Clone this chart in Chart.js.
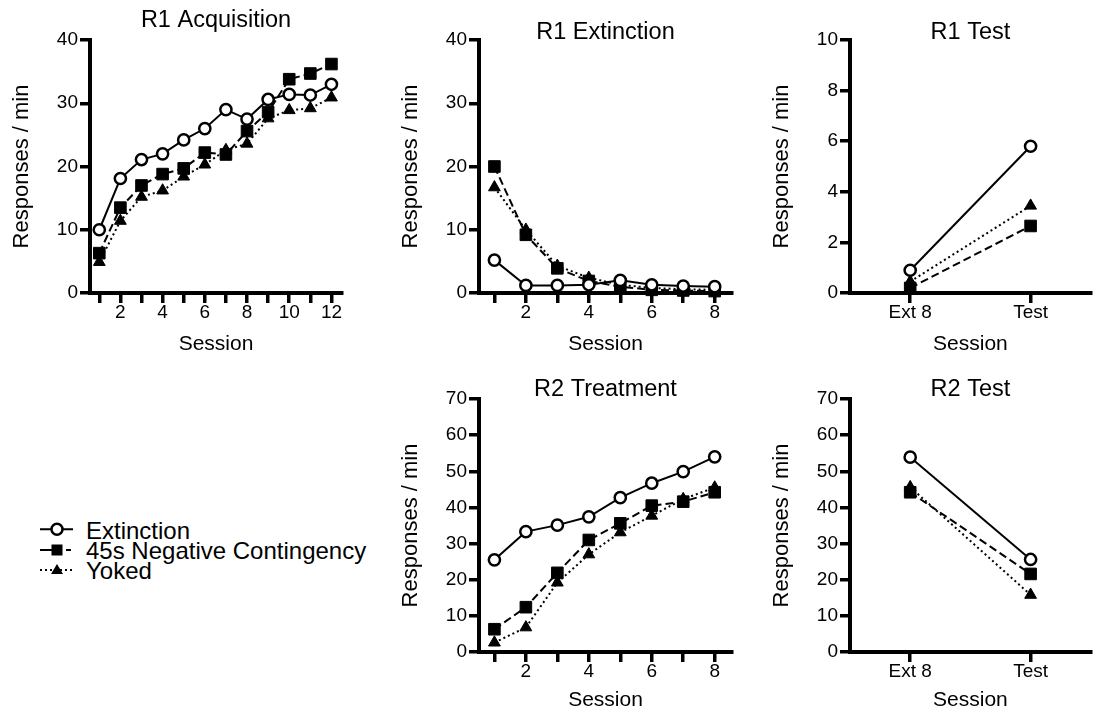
<!DOCTYPE html>
<html><head><meta charset="utf-8">
<script src="https://cdn.jsdelivr.net/npm/chart.js@4.4.1/dist/chart.umd.min.js"></script>
<style>
html,body{margin:0;padding:0;background:#fff;}
body{width:1100px;height:715px;position:relative;overflow:hidden;font-family:'Liberation Sans',Arial,sans-serif;}
.panel{position:absolute;}
.panel canvas{display:block;}
.lg{position:absolute;left:86px;font-size:24px;line-height:20.5px;white-space:nowrap;color:#000;}
</style></head><body>
<div class="panel" style="left:0px;top:0px;width:360px;height:360px"><canvas id="c1"></canvas></div>
<div class="panel" style="left:389px;top:0px;width:360px;height:360px"><canvas id="c2"></canvas></div>
<div class="panel" style="left:760px;top:0px;width:340px;height:360px"><canvas id="c3"></canvas></div>
<div class="panel" style="left:389px;top:360px;width:360px;height:355px"><canvas id="c4"></canvas></div>
<div class="panel" style="left:760px;top:360px;width:340px;height:355px"><canvas id="c5"></canvas></div>

<svg style="position:absolute;left:0;top:500px" width="85" height="90">
  <line x1="40" y1="29.3" x2="73" y2="29.3" stroke="#000" stroke-width="2"/>
  <circle cx="57" cy="29.3" r="5.5" fill="#fff" stroke="#000" stroke-width="2.5"/>
  <line x1="40" y1="50" x2="52" y2="50" stroke="#000" stroke-width="2"/>
  <line x1="66" y1="50" x2="71" y2="50" stroke="#000" stroke-width="2"/>
  <rect x="51.5" y="44.5" width="11" height="11" fill="#000"/>
  <line x1="40" y1="70" x2="74" y2="70" stroke="#000" stroke-width="2" stroke-dasharray="2,3"/>
  <polygon points="57,64 63,74 51,74" fill="#000"/>
</svg>
<div class="lg" style="top:520.8px">Extinction</div>
<div class="lg" style="top:541px">45s Negative Contingency</div>
<div class="lg" style="top:561px">Yoked</div>

<script>
// ---- data ----
const seriesNames = ['Extinction', '45s Negative Contingency', 'Yoked'];

const acqSessions = [1, 2, 3, 4, 5, 6, 7, 8, 9, 10, 11, 12];
const acqExtinction = [10.0, 18.1, 21.1, 22.0, 24.2, 26.0, 29.0, 27.5, 30.6, 31.4, 31.3, 33.0];
const acqNegCont    = [6.3, 13.5, 17.0, 18.8, 19.7, 22.2, 21.9, 25.6, 28.6, 33.8, 34.7, 36.2];
const acqYoked      = [4.9, 11.4, 15.2, 16.2, 18.4, 20.3, 22.6, 23.6, 27.6, 28.9, 29.2, 30.9];

const extSessions = [1, 2, 3, 4, 5, 6, 7, 8];
const extExtinction = [5.2, 1.2, 1.2, 1.3, 2.0, 1.3, 1.1, 1.0];
const extNegCont    = [20.0, 9.2, 3.9, 1.9, 1.0, 0.5, 0.4, 0.3];
const extYoked      = [16.7, 10.0, 4.3, 2.4, 1.3, 0.8, 0.6, 0.5];

const testLabels = ['Ext 8', 'Test'];
const r1TestExtinction = [0.9, 5.8];
const r1TestNegCont    = [0.2, 2.65];
const r1TestYoked      = [0.45, 3.45];

const treatSessions = [1, 2, 3, 4, 5, 6, 7, 8];
const treatExtinction = [25.5, 33.3, 35.1, 37.4, 42.7, 46.7, 49.9, 54.0];
const treatNegCont    = [6.3, 12.4, 21.9, 31.0, 35.6, 40.5, 41.6, 44.2];
const treatYoked      = [2.6, 6.8, 19.2, 27.0, 33.1, 37.7, 42.3, 45.5];

const r2TestExtinction = [53.9, 25.6];
const r2TestNegCont    = [44.2, 21.6];
const r2TestYoked      = [45.6, 15.8];

// ---- rendering ----
Chart.defaults.font.family = "'Liberation Sans', Arial, sans-serif";
Chart.defaults.color = '#000';

function makeDatasets(series, xs) {
  const toData = v => xs ? xs.map((x, i) => ({x: x, y: v[i]})) : v;
  const base = {borderColor: '#000', borderWidth: 2, tension: 0, clip: false,
                pointBorderColor: '#000', pointHoverRadius: 0};
  return [
    Object.assign({}, base, {label: seriesNames[0], data: toData(series[0]),
      pointStyle: 'circle', pointRadius: 5.6, pointBorderWidth: 2.5,
      pointBackgroundColor: '#fff', backgroundColor: '#fff'}),
    Object.assign({}, base, {label: seriesNames[1], data: toData(series[1]), borderDash: [8, 4],
      pointStyle: 'rect', pointRadius: 8.2, pointBorderWidth: 1,
      pointBackgroundColor: '#000', backgroundColor: '#000'}),
    Object.assign({}, base, {label: seriesNames[2], data: toData(series[2]), borderDash: [2, 3],
      pointStyle: 'triangle', pointRadius: 6.8, pointBorderWidth: 1,
      pointBackgroundColor: '#000', backgroundColor: '#000'})
  ];
}

function axisLook(tickLength) {
  return {
    grid: {display: true, drawOnChartArea: false, drawTicks: true, tickLength: tickLength,
           lineWidth: 3.5, color: '#000', offset: false},
    border: {display: true, width: 4, color: '#000'}
  };
}

function panel(id, c) {
  const isCat = !c.sessions;
  const xScale = Object.assign(axisLook(10), {
    type: isCat ? 'category' : 'linear',
    offset: isCat,
    ticks: {color: '#000', font: {size: 19, lineHeight: 1}, padding: c.xTickPad,
            autoSkip: false, maxRotation: 0, minRotation: 0},
    title: {display: true, text: 'Session', color: '#000',
            font: {size: 21, lineHeight: 1.2}, padding: {top: 0, bottom: c.xTitlePad}},
    afterFit: s => { s.height = c.xH; }
  });
  if (!isCat) {
    xScale.min = c.xMin; xScale.max = c.xMax;
    xScale.afterBuildTicks = s => { s.ticks = c.sessions.map(v => ({value: v})); };
    xScale.ticks.callback = v => (v % 2 === 0 ? String(v) : '');
  }
  const yScale = Object.assign(axisLook(10), {
    type: 'linear', min: 0, max: c.yMax,
    ticks: {stepSize: c.yStep, color: '#000', font: {size: 19}, padding: 2},
    title: {display: true, text: 'Responses / min', color: '#000',
            font: {size: 22, lineHeight: 1.2}, padding: {top: 8.8, bottom: 0}},
    afterFit: s => { s.width = 90; }
  });
  const data = {datasets: makeDatasets(c.series, c.sessions)};
  if (isCat) data.labels = testLabels;
  return new Chart(document.getElementById(id), {
    type: 'line',
    data: data,
    options: {
      responsive: true, maintainAspectRatio: false, animation: false,
      layout: {padding: {left: 0, right: c.padRight, top: 0, bottom: 0}},
      plugins: {
        legend: {display: false}, tooltip: {enabled: false},
        title: {display: true, text: c.title, fullSize: false, color: '#000',
                font: {size: 23.5, weight: 'normal', lineHeight: 0.6},
                padding: {top: c.titleTop, bottom: c.titleBottom}}
      },
      scales: {x: xScale, y: yScale}
    }
  });
}

panel('c1', {title: 'R1 Acquisition', sessions: acqSessions, xMin: 0.56, xMax: 12.5,
  series: [acqExtinction, acqNegCont, acqYoked], yMax: 40, yStep: 10,
  padRight: 18, titleTop: 13, titleBottom: 12.9, xH: 67, xTitlePad: 3.4, xTickPad: 0.5});
panel('c2', {title: 'R1 Extinction', sessions: extSessions, xMin: 0.51, xMax: 8.55,
  series: [extExtinction, extNegCont, extYoked], yMax: 40, yStep: 10,
  padRight: 17, titleTop: 25, titleBottom: 0.9, xH: 67, xTitlePad: 3.4, xTickPad: 0.5});
panel('c3', {title: 'R1 Test', sessions: null,
  series: [r1TestExtinction, r1TestNegCont, r1TestYoked], yMax: 10, yStep: 2,
  padRight: 0, titleTop: 25, titleBottom: 0.9, xH: 67, xTitlePad: 3.4, xTickPad: 0.5});
panel('c4', {title: 'R2 Treatment', sessions: treatSessions, xMin: 0.51, xMax: 8.55,
  series: [treatExtinction, treatNegCont, treatYoked], yMax: 70, yStep: 10,
  padRight: 17, titleTop: 22, titleBottom: 2.9, xH: 63, xTitlePad: 1.7, xTickPad: 0.5});
panel('c5', {title: 'R2 Test', sessions: null,
  series: [r2TestExtinction, r2TestNegCont, r2TestYoked], yMax: 70, yStep: 10,
  padRight: 0, titleTop: 22, titleBottom: 2.9, xH: 63, xTitlePad: 1.7, xTickPad: 0.5});
</script>
</body></html>
